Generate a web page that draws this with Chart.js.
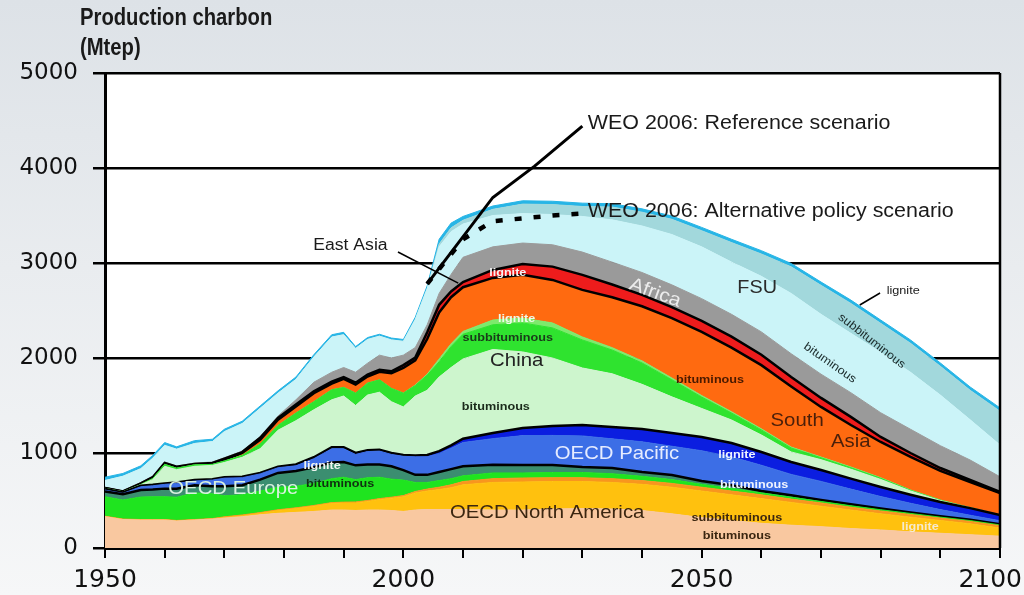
<!DOCTYPE html>
<html>
<head>
<meta charset="utf-8">
<script src="https://cdn.jsdelivr.net/npm/chart.js@4.4.1/dist/chart.umd.min.js"></script>
<style>
  html, body { margin: 0; padding: 0; }
  body {
    width: 1024px; height: 595px; overflow: hidden; position: relative;
    background: linear-gradient(180deg, #dde2e7 0%, #e9ecef 45%, #f6f7f8 100%);
    font-family: 'Liberation Sans', Arial, sans-serif;
  }
  #wrap { position: absolute; left: 0; top: 0; width: 1024px; height: 595px; }
  .title {
    position: absolute; left: 80px; font-weight: bold; font-size: 23px; line-height: 1;
    color: #1a1a1a; transform: scaleX(0.88); transform-origin: 0 0; white-space: nowrap;
  }
</style>
</head>
<body>
<div id="wrap"><canvas id="coal" width="1024" height="595"></canvas></div>
<div class="title" style="top:6px">Production charbon</div>
<div class="title" style="top:36px">(Mtep)</div>
<script>
// production by region and coal type, Mtep (each layer is stacked on the previous one)
const years = [1950, 1953, 1956, 1958, 1960, 1962, 1965, 1968, 1970, 1973,
               1976, 1979, 1982, 1985, 1988, 1990, 1992, 1994, 1996, 1998,
               2000, 2002, 2004, 2006, 2008, 2010, 2015, 2020, 2025, 2030,
               2035, 2040, 2045, 2050, 2055, 2060, 2065, 2070, 2075, 2080,
               2085, 2090, 2095, 2100];

const naBit  = [330,300,295,295,295,285,295,305,315,330,350,365,375,385,400,400,395,400,400,395,385,400,405,405,405,405,400,400,410,415,410,395,360,320,290,260,240,225,205,190,170,155,140,125];
const naSub  = [0,0,0,0,0,0,0,0,5,10,15,30,40,55,70,75,80,90,110,130,155,180,195,210,230,260,290,295,290,285,280,275,280,280,270,260,240,215,195,170,155,135,115,85];
const naLig  = [5,5,5,5,5,5,5,5,8,8,8,8,8,8,8,8,10,10,10,10,12,15,20,25,30,35,40,42,40,40,40,40,40,40,40,40,35,35,30,30,28,25,25,25];
const euBit  = [205,200,237,240,240,245,280,260,222,212,227,237,227,232,252,262,235,240,225,190,163,95,70,70,65,60,60,53,55,55,52,45,40,30,28,20,20,15,15,13,11,10,9,8];
const euLig  = [55,60,73,75,85,90,80,80,100,100,120,150,160,170,170,160,150,140,135,135,105,80,80,90,100,100,85,84,79,58,60,45,48,35,32,20,20,15,15,12,11,10,9,7];
const pacBit = [15,10,35,40,45,55,45,65,85,80,60,55,55,90,145,140,115,135,140,125,145,190,190,195,220,250,276,309,311,327,307,318,303,319,300,271,220,196,160,127,96,69,47,37];
const pacLig = [10,10,10,10,10,10,10,10,10,10,10,10,15,15,15,15,15,15,15,15,15,15,20,25,30,40,60,80,100,115,125,135,140,145,145,140,130,120,110,100,90,80,75,60];
const cnBit  = [5,5,10,55,180,135,145,145,155,205,255,385,460,500,500,540,500,580,605,540,505,625,680,780,820,840,879,801,715,600,560,470,380,300,243,179,106,109,100,80,40,15,3,0];
const cnSub  = [3,2,3,10,20,15,15,10,15,20,50,50,80,85,105,90,130,125,130,140,145,110,160,160,220,260,260,305,317,295,250,225,180,120,73,53,42,20,15,12,6,4,1,0];
const cnLig  = [0,0,0,0,0,0,0,0,0,0,0,0,0,0,0,0,0,0,0,0,0,5,10,30,30,30,50,51,52,32,25,22,19,16,14,12,10,8,8,6,4,2,1,0];
const sAsia  = [0,0,0,0,0,0,0,2,10,25,45,60,70,90,65,90,90,70,85,160,265,260,370,490,490,465,443,455,453,495,530,575,630,670,675,670,637,527,442,376,347,306,270,232];
const eAsia  = [4,4,12,15,15,15,10,13,15,10,20,20,20,20,20,20,20,20,20,20,30,30,70,80,60,55,84,115,140,158,135,120,115,115,115,110,100,95,85,53,42,31,21,11];
const africa = [8,8,10,10,10,7,10,10,10,10,10,20,50,95,100,100,110,120,155,140,105,105,80,120,180,260,243,220,230,240,235,235,235,235,235,240,245,250,255,255,250,235,210,160];
const fsuBit = [70,151,145,190,175,178,205,215,275,290,300,240,215,265,370,345,250,250,200,190,145,295,380,490,450,350,330,310,318,375,445,490,530,545,550,585,635,630,625,636,600,533,424,335];
const fsuSub = [0,0,0,0,0,0,0,0,0,0,0,0,0,0,0,0,0,0,0,0,0,0,0,30,40,40,65,100,105,105,135,145,160,170,205,235,280,305,315,305,305,303,310,355];
const fsuLig = [35,30,30,30,30,25,30,25,25,25,25,25,25,25,25,25,20,20,20,20,20,25,30,50,50,40,35,35,35,35,35,35,35,35,35,35,35,35,35,35,35,35,35,35];

// WEO 2006 world totals
const weoRefYears = [2004, 2015, 2022, 2030];
const weoRef      = [2780, 3690, 4020, 4440];
const weoAltYears = [2004, 2010, 2015, 2020, 2025, 2030];
const weoAlt      = [2780, 3250, 3440, 3470, 3500, 3520];

// labelled years on the time axis
const xLabels = [1950, 2000, 2050, 2100];

const layers = [
  { name: 'OECD North America bituminous', values: naBit, color: '#f9c8a0' },
  { name: 'OECD North America subbituminous', values: naSub, color: '#ffc10e' },
  { name: 'OECD North America lignite', values: naLig, color: '#f8961e' },
  { name: 'OECD Europe bituminous', values: euBit, color: '#1fe41f' },
  { name: 'OECD Europe lignite', values: euLig, color: '#3b8e70', edge: '#000' },
  { name: 'OECD Pacific bituminous', values: pacBit, color: '#3c6ee6' },
  { name: 'OECD Pacific lignite', values: pacLig, color: '#0b1ee0', edge: '#000' },
  { name: 'China bituminous', values: cnBit, color: '#cdf5cd' },
  { name: 'China subbituminous', values: cnSub, color: '#2fe32f' },
  { name: 'China lignite', values: cnLig, color: '#7dea6c' },
  { name: 'South Asia', values: sAsia, color: '#ff6a10', edge: '#000' },
  { name: 'East Asia', values: eAsia, color: '#ee1c1c', edge: '#000' },
  { name: 'Africa', values: africa, color: '#9a9a9a' },
  { name: 'FSU bituminous', values: fsuBit, color: '#cbf4f8' },
  { name: 'FSU subbituminous', values: fsuSub, color: '#a2d8dc' },
  { name: 'FSU lignite', values: fsuLig, color: '#27b5e6' }
];

const toPoints = (xs, vs) => xs.map((x, i) => ({ x: x, y: vs[i] }));

const datasets = layers.map((l, i) => ({
  label: l.name,
  data: toPoints(years, l.values),
  backgroundColor: l.color,
  borderColor: l.edge || l.color,
  borderWidth: l.edge ? 2.5 : 1,
  fill: i === 0 ? 'origin' : '-1',
  stack: 'coal',
  pointRadius: 0,
  tension: 0
}));

datasets.push({
  label: 'WEO 2006: Reference scenario',
  data: toPoints(weoRefYears, weoRef),
  stack: 'ref', fill: false, order: -1,
  borderColor: '#000', borderWidth: 3, pointRadius: 0, tension: 0
});
datasets.push({
  label: 'WEO 2006: Alternative policy scenario',
  data: toPoints(weoAltYears, weoAlt),
  stack: 'alt', fill: false, order: -1,
  borderColor: '#000', borderWidth: 4.5, borderDash: [7, 12], borderCapStyle: 'butt',
  pointRadius: 0, tension: 0
});

// text placed inside the plot, anchored on (year, Mtep)
const notes = [
  { text: 'WEO 2006: Reference scenario', x: 2030.9, y: 4463, size: 19.5, align: 'left', color: '#1a1a1a' },
  { text: 'WEO 2006: Alternative policy scenario', x: 2030.9, y: 3537, size: 19.5, align: 'left', color: '#1a1a1a' },
  { text: 'East Asia', x: 1984.9, y: 3179, size: 16, align: 'left', color: '#1a1a1a' },
  { text: 'lignite', x: 2017.5, y: 2895, size: 11.5, bold: true, color: '#f4f4f4' },
  { text: 'Africa', x: 2042.2, y: 2684, size: 19, color: '#ececec', angle: 20 },
  { text: 'FSU', x: 2059.3, y: 2737, size: 18, color: '#2a2a2a' },
  { text: 'lignite', x: 2081.0, y: 2705, size: 11.5, align: 'left', color: '#1a1a1a' },
  { text: 'subbituminous', x: 2078.5, y: 2179, size: 11.5, color: '#1a2a2a', angle: 38 },
  { text: 'bituminous', x: 2071.5, y: 1947, size: 11.5, color: '#1a2a2a', angle: 35 },
  { text: 'bituminous', x: 2051.4, y: 1768, size: 11.5, bold: true, color: '#4a1a00' },
  { text: 'South', x: 2066.0, y: 1337, size: 18.5, color: '#4a1f0a' },
  { text: 'Asia', x: 2075.0, y: 1116, size: 18.5, color: '#4a1f0a' },
  { text: 'lignite', x: 2019.0, y: 2411, size: 11.5, bold: true, color: '#eefbe8' },
  { text: 'subbituminous', x: 2017.5, y: 2211, size: 11.5, bold: true, color: '#1a3a1a' },
  { text: 'China', x: 2019.0, y: 1968, size: 18.5, color: '#222' },
  { text: 'bituminous', x: 2015.5, y: 1484, size: 11.5, bold: true, color: '#1a2a1a' },
  { text: 'OECD Pacific', x: 2035.8, y: 989, size: 18.5, color: '#e6ecff' },
  { text: 'lignite', x: 2055.9, y: 979, size: 11.5, bold: true, color: '#f0f4ff' },
  { text: 'bituminous', x: 2058.8, y: 663, size: 11.5, bold: true, color: '#f0f4ff' },
  { text: 'lignite', x: 1986.4, y: 863, size: 11.5, bold: true, color: '#f0f4f0' },
  { text: 'bituminous', x: 1989.4, y: 674, size: 11.5, bold: true, color: '#103010' },
  { text: 'OECD Europe', x: 1971.5, y: 621, size: 18.5, color: '#d9f2e0' },
  { text: 'OECD North America', x: 2024.1, y: 368, size: 18.5, color: '#3b2610' },
  { text: 'subbituminous', x: 2055.9, y: 316, size: 11.5, bold: true, color: '#3b2610' },
  { text: 'bituminous', x: 2055.9, y: 126, size: 11.5, bold: true, color: '#3b2610' },
  { text: 'lignite', x: 2086.6, y: 221, size: 11.5, bold: true, color: '#f6ead0' }
];

const leaders = [
  [[1999.1, 3116], [2009.2, 2789]],
  [[2079.9, 2684], [2076.5, 2558]]
];

const plotDecor = {
  id: 'plotDecor',
  beforeDraw(chart) {
    const { ctx, chartArea: a } = chart;
    ctx.save();
    ctx.fillStyle = '#fff';
    ctx.fillRect(a.left, a.top, a.right - a.left, a.bottom - a.top);
    ctx.restore();
  },
  afterDatasetsDraw(chart) {
    const { ctx, chartArea: a, scales: { x, y } } = chart;
    ctx.save();
    // right border of the plot
    ctx.strokeStyle = '#000';
    ctx.lineWidth = 2.5;
    ctx.beginPath();
    ctx.moveTo(a.right, a.top);
    ctx.lineTo(a.right, a.bottom);
    ctx.stroke();

    ctx.lineWidth = 1.5;
    leaders.forEach(seg => {
      ctx.beginPath();
      ctx.moveTo(x.getPixelForValue(seg[0][0]), y.getPixelForValue(seg[0][1]));
      ctx.lineTo(x.getPixelForValue(seg[1][0]), y.getPixelForValue(seg[1][1]));
      ctx.stroke();
    });

    notes.forEach(n => {
      ctx.save();
      ctx.translate(x.getPixelForValue(n.x), y.getPixelForValue(n.y));
      if (n.angle) ctx.rotate(n.angle * Math.PI / 180);
      ctx.scale(1.1, 1);
      ctx.font = (n.bold ? 'bold ' : '') + n.size + "px 'Liberation Sans', Arial, sans-serif";
      ctx.fillStyle = n.color;
      ctx.textAlign = n.align || 'center';
      ctx.textBaseline = 'middle';
      ctx.fillText(n.text, 0, 0);
      ctx.restore();
    });
    ctx.restore();
  },
  afterDraw(chart) {
    // year labels under the axis; the last one is kept inside the canvas
    const { ctx, scales: { x } } = chart;
    ctx.save();
    ctx.font = "25px 'DejaVu Sans', sans-serif";
    ctx.fillStyle = '#111';
    ctx.textAlign = 'center';
    ctx.textBaseline = 'middle';
    xLabels.forEach(v => {
      const w = ctx.measureText(String(v)).width;
      const px = Math.min(x.getPixelForValue(v), chart.width - 2 - w / 2);
      ctx.fillText(String(v), px, x.bottom - 15);
    });
    ctx.restore();
  }
};

new Chart(document.getElementById('coal'), {
  type: 'line',
  data: { datasets: datasets },
  options: {
    responsive: false,
    animation: false,
    events: [],
    layout: { padding: { top: 73, right: 24, left: 0, bottom: 0 } },
    plugins: {
      legend: { display: false },
      tooltip: { enabled: false }
    },
    scales: {
      x: {
        type: 'linear', min: 1950, max: 2100,
        border: { display: true, color: '#000', width: 3 },
        grid: { drawOnChartArea: false, drawTicks: true, tickLength: 10, color: '#000', lineWidth: 2 },
        ticks: { stepSize: 10, autoSkip: false, maxRotation: 0, callback: () => '' },
        afterFit: s => { s.height = 47; s.paddingLeft = 0; s.paddingRight = 0; }
      },
      y: {
        stacked: true, min: 0, max: 5000,
        border: { display: true, color: '#000', width: 3 },
        grid: { color: '#000', lineWidth: 2.5, tickLength: 12, drawTicks: true },
        ticks: {
          stepSize: 1000, padding: 15, color: '#111',
          font: { family: 'DejaVu Sans', size: 23 },
          callback: v => String(v)
        },
        afterFit: s => { s.width = 105; }
      }
    }
  },
  plugins: [plotDecor]
});
</script>
</body>
</html>
